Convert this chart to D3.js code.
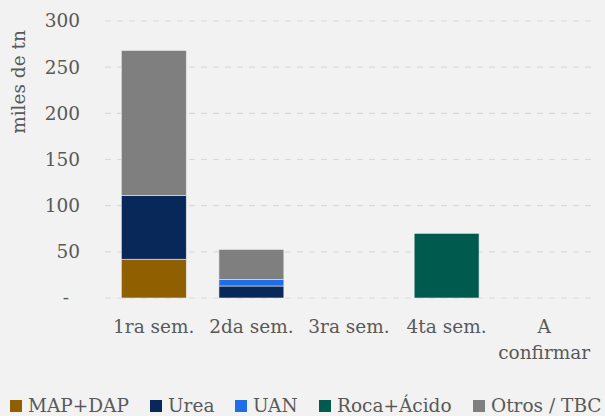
<!DOCTYPE html>
<html>
<head>
<meta charset="utf-8">
<script src="https://cdn.jsdelivr.net/npm/d3@7"></script>
<style>
  body { margin: 0; background: #f2f2f2; }
  text { font-family: "DejaVu Serif", "Liberation Serif", serif; fill: #595959; }
</style>
</head>
<body>
<div id="container"></div>
<script>
const width = 605;
const height = 416;
const margin = { top: 21, bottom: 118, left: 105, right: 12 };

const categories = ["1ra sem.", "2da sem.", "3ra sem.", "4ta sem.", "A confirmar"];
const seriesNames = ["MAP+DAP", "Urea", "UAN", "Roca+Ácido", "Otros / TBC"];
const colors = ["#8f5f00", "#08285a", "#1f6de8", "#005a4e", "#7f7f7f"];
const mapDap = [42, 0, 0, 0, 0];
const urea = [69, 13, 0, 0, 0];
const uan = [0, 7, 0, 0, 0];
const rocaAcido = [0, 0, 0, 70, 0];
const otros = [157, 32.5, 0, 0, 0];
const yTicks = [0, 50, 100, 150, 200, 250, 300];

const rows = categories.map((c, i) => ({
    cat: c,
    "MAP+DAP": mapDap[i],
    "Urea": urea[i],
    "UAN": uan[i],
    "Roca+Ácido": rocaAcido[i],
    "Otros / TBC": otros[i]
}));

const svg = d3.select("#container")
    .append('svg')
    .attr('width', width)
    .attr('height', height);

const x = d3.scaleBand()
    .domain(categories)
    .range([margin.left, width - margin.right])
    .paddingInner(0.335)
    .paddingOuter(0.1675);

const y = d3.scaleLinear()
    .domain([0, 300])
    .range([height - margin.bottom, margin.top]);

// gridlines
svg.append('g')
    .selectAll('line')
    .data(yTicks)
    .join('line')
    .attr('x1', margin.left)
    .attr('x2', width - margin.right)
    .attr('y1', d => y(d))
    .attr('y2', d => y(d))
    .attr('stroke', '#d9d9d9')
    .attr('stroke-width', 1.2)
    .attr('stroke-dasharray', '6,6');

// y axis labels
svg.append('g')
    .selectAll('text')
    .data(yTicks)
    .join('text')
    .attr('y', d => y(d))
    .attr('dy', '0.35em')
    .attr('text-anchor', 'end')
    .style('font-size', '18.5px')
    .text(d => d === 0 ? '-' : d)
    .attr('x', d => d === 0 ? 69 : 80);

svg.append('text')
    .attr('transform', 'translate(25,82) rotate(-90)')
    .attr('text-anchor', 'middle')
    .style('font-size', '18.5px')
    .text('miles de tn');

// stacked bars
const stack = d3.stack().keys(seriesNames)(rows);

svg.append('g')
    .selectAll('g')
    .data(stack)
    .join('g')
    .attr('fill', (d, i) => colors[i])
    .selectAll('rect')
    .data(d => d.filter(p => p[1] - p[0] > 0))
    .join('rect')
    .attr('x', d => x(d.data.cat))
    .attr('width', x.bandwidth())
    .attr('y', d => y(d[1]))
    .attr('height', d => y(d[0]) - y(d[1]))
    .attr('stroke', '#e8e8e8')
    .attr('stroke-width', 0.6);

// x labels
svg.append('g')
    .selectAll('text')
    .data(categories)
    .join('text')
    .attr('text-anchor', 'middle')
    .style('font-size', '18.5px')
    .each(function (d) {
        const t = d3.select(this);
        const cx = x(d) + x.bandwidth() / 2;
        const parts = d === "A confirmar" ? ["A", "confirmar"] : [d];
        parts.forEach((p, j) => {
            t.append('tspan')
                .attr('x', cx)
                .attr('y', 333 + j * 26)
                .text(p);
        });
    });

// legend
const legendX = [10, 150, 235, 319, 473];
const legend = svg.append('g')
    .selectAll('g')
    .data(seriesNames)
    .join('g')
    .attr('transform', (d, i) => `translate(${legendX[i]},412)`);

legend.append('rect')
    .attr('x', 0)
    .attr('y', -12)
    .attr('width', 12)
    .attr('height', 12)
    .attr('fill', (d, i) => colors[i]);

legend.append('text')
    .attr('x', 18)
    .attr('y', 0)
    .style('font-size', '18.5px')
    .text(d => d);
</script>
</body>
</html>
